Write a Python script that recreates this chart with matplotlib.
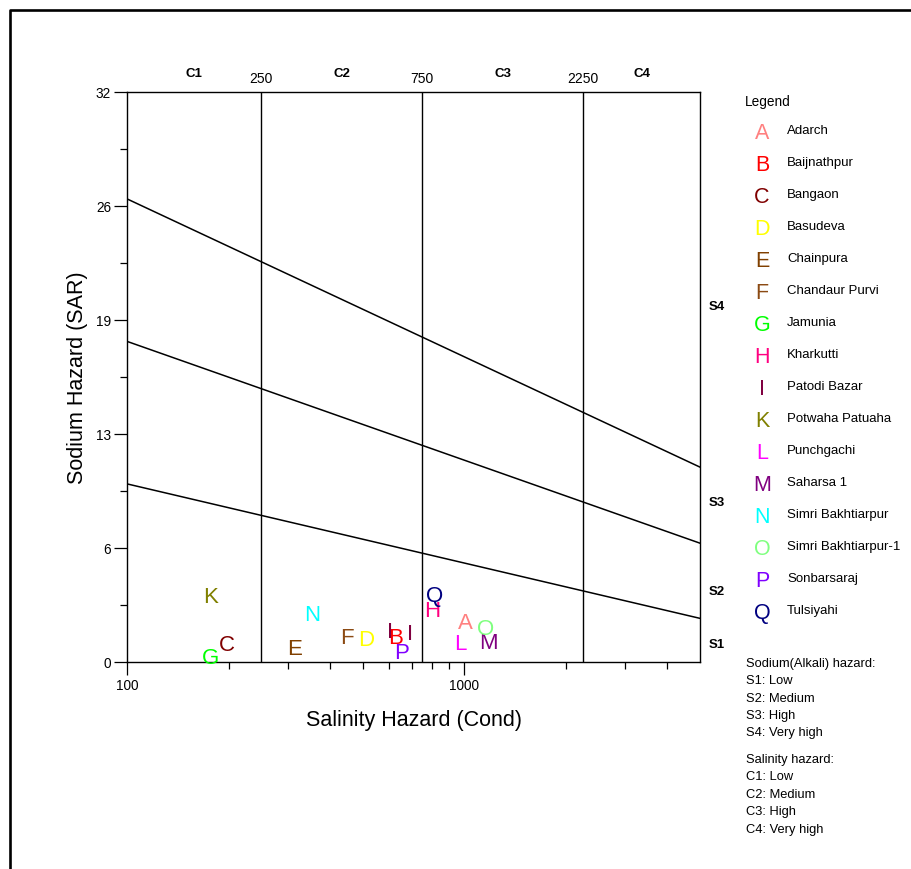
import matplotlib
matplotlib.use("Agg")
import matplotlib.pyplot as plt
import matplotlib.transforms as mtransforms
from matplotlib.lines import Line2D
from matplotlib import font_manager
import numpy as np

# ---- sample data: conductivity (µS/cm) and sodium adsorption ratio ----
letters = ["A", "B", "C", "D", "E", "F", "G", "H", "I", "I",
           "K", "L", "M", "N", "O", "P", "Q"]
cond = [1005, 627, 198, 511, 315, 448, 177, 804, 602, 690,
        177, 976, 1178, 355, 1157, 652, 819]
sar = [2.37, 1.53, 1.11, 1.39, 0.88, 1.52, 0.39, 3.01, 1.85, 1.76,
       3.82, 1.16, 1.25, 2.82, 2.04, 0.69, 3.87]

# legend entries
legend_letters = ["A", "B", "C", "D", "E", "F", "G", "H", "I",
                  "K", "L", "M", "N", "O", "P", "Q"]
legend_names = ["Adarch", "Baijnathpur", "Bangaon", "Basudeva", "Chainpura",
                "Chandaur Purvi", "Jamunia", "Kharkutti", "Patodi Bazar",
                "Potwaha Patuaha", "Punchgachi", "Saharsa 1", "Simri Bakhtiarpur",
                "Simri Bakhtiarpur-1", "Sonbarsaraj", "Tulsiyahi"]
letter_colors = {
    "A": "#FF8080", "B": "#FF0000", "C": "#800000", "D": "#FFFF00",
    "E": "#804000", "F": "#8B4A13", "G": "#00FF00", "H": "#FF0080",
    "I": "#800040", "K": "#808000", "L": "#FF00FF", "M": "#800080",
    "N": "#00FFFF", "O": "#80FF80", "P": "#8000FF", "Q": "#000080",
}

# salinity class boundaries and sodium hazard boundary lines
cond_bounds = [250, 750, 2250]
c_classes = ["C1", "C2", "C3", "C4"]
x_range = [100, 5000]
sar_lines_at_100 = [10.0, 18.0, 26.0]
sar_lines_at_5000 = [2.45, 6.67, 10.94]
s_classes = ["S1", "S2", "S3", "S4"]
s_label_sar = [1, 4, 9, 20]

y_major = [0, 6.4, 12.8, 19.2, 25.6, 32]
y_major_labels = ["0", "6", "13", "19", "26", "32"]

hazard_notes_sodium = ["Sodium(Alkali) hazard:", "S1: Low", "S2: Medium",
                       "S3: High", "S4: Very high"]
hazard_notes_salinity = ["Salinity hazard:", "C1: Low", "C2: Medium",
                         "C3: High", "C4: Very high"]

# ---- fonts ----
available = {f.name for f in font_manager.fontManager.ttflist}
base_font = "Liberation Sans" if "Liberation Sans" in available else "DejaVu Sans"
plt.rcParams["font.family"] = [base_font, "DejaVu Sans"]

W, H = 912, 870
fig = plt.figure(figsize=(W / 100, H / 100), dpi=100)
fig.patch.set_facecolor("white")


def fx(px):
    return px / W


def fy(py):
    return 1 - py / H


ax = fig.add_axes([fx(127), fy(663), fx(700) - fx(127), fy(93) - fy(663)])
ax.set_xscale("log")
ax.set_xlim(*x_range)
ax.set_ylim(0, 32)

for s in ax.spines.values():
    s.set_linewidth(1.0)
    s.set_color("black")

# ticks
ax.set_xticks([100, 1000])
ax.set_xticklabels(["100", "1000"])
ax.set_xticks([200, 300, 400, 500, 600, 700, 800, 900, 2000, 3000, 4000], minor=True)
ax.xaxis.set_minor_formatter(plt.NullFormatter())
ax.set_yticks(y_major)
ax.set_yticklabels(y_major_labels)
ax.set_yticks([3.2, 9.6, 16.0, 22.4, 28.8], minor=True)
ax.tick_params(axis="both", which="major", length=9.5, width=0.9, direction="out",
               labelsize=9.8, pad=2)
ax.tick_params(axis="both", which="minor", length=5, width=0.9, direction="out")

ax.set_xlabel("Salinity Hazard (Cond)", fontsize=15.5, labelpad=12)
ax.set_ylabel("Sodium Hazard (SAR)", fontsize=15.5, labelpad=6)

# class boundaries
for cb in cond_bounds:
    ax.axvline(cb, color="black", lw=1.0)
for y0, y1 in zip(sar_lines_at_100, sar_lines_at_5000):
    ax.plot(x_range, [y0, y1], color="black", lw=1.1)

# top class labels
trans_top = mtransforms.blended_transform_factory(ax.transData, ax.transAxes)
edges = [x_range[0]] + cond_bounds + [x_range[1]]
for i, name in enumerate(c_classes):
    xc = np.sqrt(edges[i] * edges[i + 1])
    ax.text(xc, 1.033, name, transform=trans_top, ha="center", va="center",
            fontsize=9.5, fontweight="bold", clip_on=False)
for cb in cond_bounds:
    ax.text(cb, 1.024, str(cb), transform=trans_top, ha="center", va="center",
            fontsize=10, clip_on=False)

# right class labels
trans_right = mtransforms.blended_transform_factory(ax.transAxes, ax.transData)
for name, yv in zip(s_classes, s_label_sar):
    ax.text(1.015, yv, name, transform=trans_right, ha="left", va="center",
            fontsize=9.5, fontweight="bold", clip_on=False)

# sample points drawn as letters
for lt, xv, yv in zip(letters, cond, sar):
    ax.text(xv, yv, lt, color=letter_colors[lt], fontsize=16, ha="center",
            va="center_baseline", clip_on=False)

# legend
fig.text(fx(745), fy(102), "Legend", fontsize=9.8, ha="left", va="center",
         fontweight="medium")
for i, (lt, nm) in enumerate(zip(legend_letters, legend_names)):
    yy = 131 + 32 * i
    fig.text(fx(762), fy(yy), lt, color=letter_colors[lt], fontsize=15.5,
             ha="center", va="center_baseline")
    fig.text(fx(787), fy(yy), nm, fontsize=9.5, ha="left", va="center")

for i, t in enumerate(hazard_notes_sodium):
    fig.text(fx(746), fy(664 + 17.3 * i), t, fontsize=9.3, ha="left", va="center")
for i, t in enumerate(hazard_notes_salinity):
    fig.text(fx(746), fy(760 + 17.5 * i), t, fontsize=9.3, ha="left", va="center")

# outer frame
fig.add_artist(Line2D([fx(10), fx(10), 1.0], [0.0, fy(11), fy(11)],
                      transform=fig.transFigure, color="black", lw=1.9))

fig.savefig("out.png", dpi=100, facecolor="white")
